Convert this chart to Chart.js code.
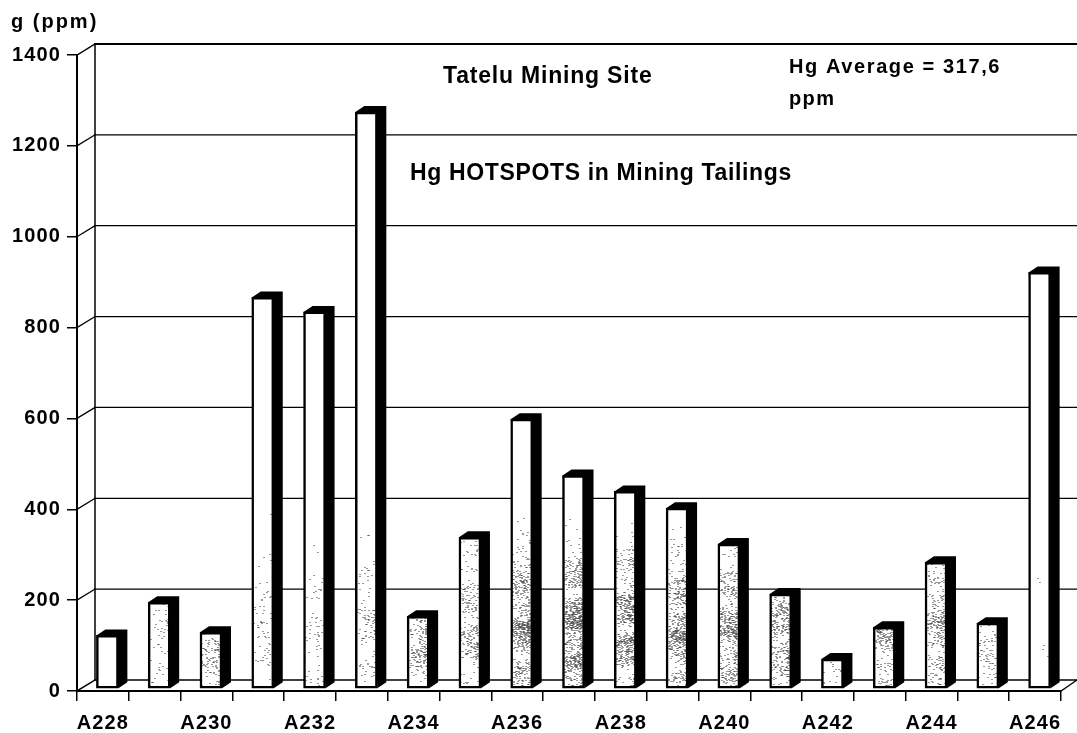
<!DOCTYPE html>
<html><head><meta charset="utf-8">
<style>html,body{margin:0;padding:0;background:#fff}canvas{display:block}</style>
<script src="https://cdn.jsdelivr.net/npm/chart.js@4"></script>
</head><body><canvas id="c" width="1077" height="733"></canvas>
<script>
const categories=["A228","A229","A230","A231","A232","A233","A234","A235","A236","A237","A238","A239","A240","A241","A242","A243","A244","A245","A246"];
const tickLabels=["A228","","A230","","A232","","A234","","A236","","A238","","A240","","A242","","A244","","A246"];
const hgValues=[118,191,125,862,830,1270,160,334,594,470,435,398,319,209,66,136,279,145,917];
const speckle=[0,.06,.2,.07,.06,.1,.3,.24,.5,.6,.45,.45,.4,.34,.18,.3,.3,.16,.005];
const notes=[
 {t:"g (ppm)",x:11,y:22,s:20,ls:2},
 {t:"Tatelu Mining Site",x:443,y:77,s:23,ls:.8},
 {t:"Hg HOTSPOTS in Mining Tailings",x:410,y:174,s:23,ls:.65},
 {t:"Hg Average = 317,6",x:789,y:67,s:20,ls:1.6},
 {t:"ppm",x:789,y:99,s:20,ls:1.4}
];
const FONT='"Liberation Sans", Arial, sans-serif';
const DX=18,DY=11,OX=4.5,OY=-2,SX=9,SY=6;
function line(ctx,x1,y1,x2,y2,w){ctx.lineWidth=w;ctx.beginPath();ctx.moveTo(x1,y1);ctx.lineTo(x2,y2);ctx.stroke();}
const scene={
 id:'scene',
 beforeDraw(chart){chart.ctx.letterSpacing='1.1px';},
 beforeDatasetsDraw(chart){
  const {ctx,scales:{x,y}}=chart;
  ctx.save();ctx.strokeStyle='#000';ctx.lineCap='square';
  const L=x.left,R=x.right;
  y.ticks.forEach(t=>{
    const py=y.getPixelForValue(t.value);
    const top=t.value===1400;
    line(ctx,L,py,L+DX,py-DY,t.value===0?1.5:1.3);
    line(ctx,L+DX,py-DY,R+DX-2,py-DY,top?2:1.3);
  });
  line(ctx,L+DX,y.top-DY,L+DX,y.bottom-DY,1.5);
  line(ctx,R,y.bottom,R+DX-2,y.bottom-DY,1.3);
  ctx.restore();
 },
 beforeDatasetDraw(chart,args){
  const {ctx}=chart;
  ctx.save();ctx.translate(OX,OY);
  ctx.fillStyle='#000';
  chart.getDatasetMeta(args.index).data.forEach(b=>{
    const r=b.x+b.width/2,l=b.x-b.width/2,t=b.y,bt=b.base;
    ctx.beginPath();
    ctx.moveTo(l,t);ctx.lineTo(l+SX,t-SY);ctx.lineTo(r+SX,t-SY);
    ctx.lineTo(r+SX,bt-SY);ctx.lineTo(r,bt);ctx.closePath();ctx.fill();
  });
 },
 afterDatasetDraw(chart,args){
  const {ctx}=chart;
  // printed halftone grain on the bar faces
  let seed=12345;const next=()=>(seed=(seed*1664525+1013904223)>>>0)/4294967296;
  ctx.fillStyle='rgba(0,0,0,.8)';
  chart.getDatasetMeta(args.index).data.forEach((b,i)=>{
    const l=Math.round(b.x-b.width/2)+2,r=Math.round(b.x+b.width/2)-2;
    for(let py=Math.round(b.y)+2;py<b.base-2;py++){
      const ay=py+OY,band=Math.max(0,1-Math.abs(ay-630)/125);
      const cluster=.65+.35*Math.sin(py*.13+i*1.7)+.2*Math.sin(py*.31+i);
      for(let px=l;px<r;px++){
        const u=next();
        const edge=.5+.5*(px-l)/(r-l);
        if(u<speckle[i]*band*band*edge*cluster*1.5)ctx.fillRect(px,py,1,1);
      }
    }
  });
  ctx.restore();
 },
 afterDraw(chart){
  const {ctx}=chart;
  ctx.save();ctx.fillStyle='#000';ctx.textBaseline='middle';ctx.textAlign='left';
  notes.forEach(n=>{ctx.letterSpacing=n.ls+'px';ctx.font='bold '+n.s+'px '+FONT;ctx.fillText(n.t,n.x,n.y);});
  ctx.restore();
 }
};
new Chart(document.getElementById('c'),{
 type:'bar',
 data:{labels:categories,datasets:[{data:hgValues,backgroundColor:'#fff',borderColor:'#000',borderWidth:2.5,borderSkipped:false,barThickness:22}]},
 plugins:[scene],
 options:{
  responsive:false,animation:false,
  layout:{padding:{left:0,right:16,top:55,bottom:0}},
  plugins:{legend:{display:false},tooltip:{enabled:false}},
  scales:{
   x:{
    afterFit(s){s.height=42;},
    grid:{offset:true,drawOnChartArea:false,color:'#000',tickLength:10,lineWidth:1.5},
    border:{color:'#000',width:2},
    ticks:{autoSkip:false,maxRotation:0,minRotation:0,color:'#000',padding:10,font:{family:FONT,weight:'bold',size:20},
      callback:(v,i)=>tickLabels[i]}
   },
   y:{
    min:0,max:1400,
    afterFit(s){s.width=77;},
    grid:{drawOnChartArea:false,color:'#000',tickLength:10,lineWidth:1.5},
    border:{color:'#000',width:2},
    ticks:{stepSize:200,color:'#000',padding:6,font:{family:FONT,weight:'bold',size:20},callback:v=>String(v)}
   }
  }
 }
});
</script></body></html>
